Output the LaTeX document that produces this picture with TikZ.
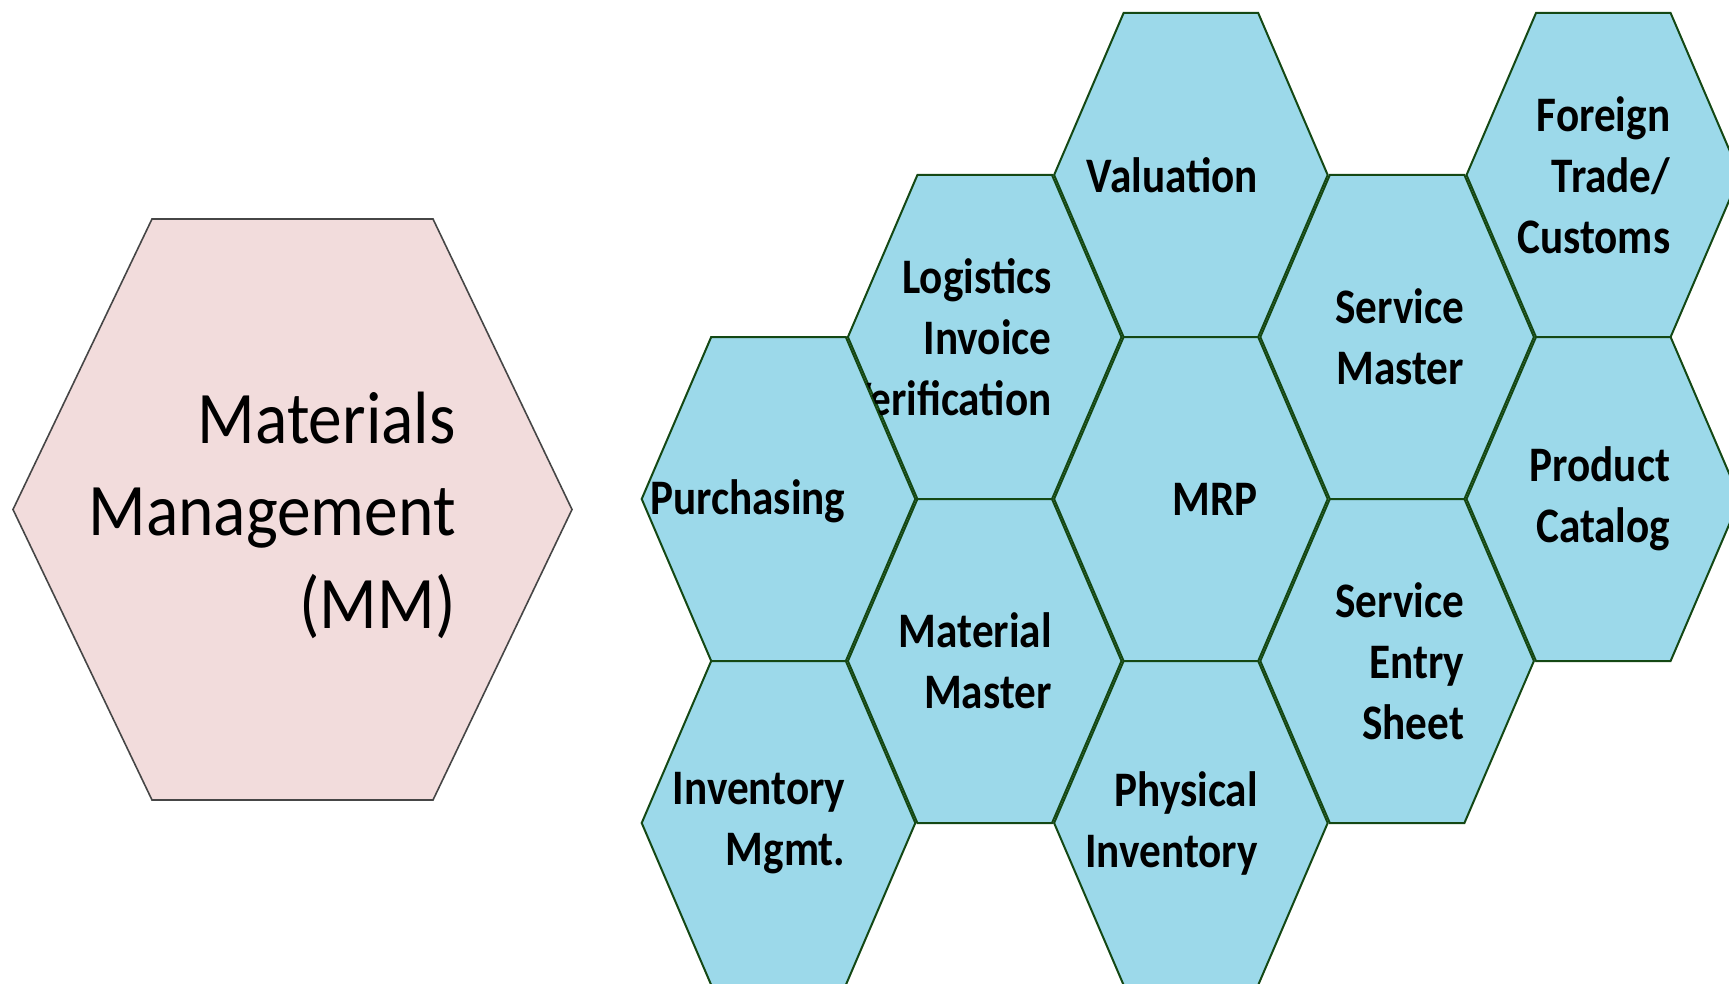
\documentclass[tikz,border=0pt]{standalone}
\usepackage{fontspec}
\setmainfont{Carlito}
\usepackage{tikz}

\definecolor{hexblue}{RGB}{156,217,234}
\definecolor{hexline}{RGB}{20,72,20}
\definecolor{mmpink}{RGB}{242,220,220}
\definecolor{mmline}{RGB}{70,70,70}

\tikzset{
  subhex/.style={draw=hexline, line width=1pt, fill=hexblue},
  mainhex/.style={draw=mmline, line width=0.8pt, fill=mmpink},
  sublabel/.style={anchor=east, align=right, inner sep=0pt, yscale=1.15,
    font=\bfseries\fontsize{21.6}{26.5}\selectfont},
  mainlabel/.style={anchor=east, align=right, inner sep=0pt, yscale=1.1,
    font=\fontsize{33.7}{42}\selectfont}
}

\begin{document}
\begin{tikzpicture}[x=0.5pt,y=0.5pt,yscale=-1,xscale=1]
\useasboundingbox (0,0) rectangle (1729,984);

%Shape: Hexagon [Materials Management]
\draw [mainhex] (152,219) -- (433,219) -- (572,509.5) -- (433,800) -- (152,800) -- (13,509.5) -- cycle ;
% Text Node
\draw (456,515) node [mainlabel] (mm) {Materials\\Management\\(MM)};

%Shape: Hexagon [Logistics Invoice Verification]
\draw [subhex] (917.4,175) -- (1052,175) -- (1121.5,337) -- (1052,499) -- (917.4,499) -- (847.9,337) -- cycle ;
% Text Node
\draw (1052,337) node [sublabel] (liv) {Logistics\\Invoice\\Verification};
%Shape: Hexagon [Material Master]
\draw [subhex] (917.4,499) -- (1052,499) -- (1121.5,661) -- (1052,823) -- (917.4,823) -- (847.9,661) -- cycle ;
% Text Node
\draw (1052,661) node [sublabel] (matmaster) {Material\\Master};

%Shape: Hexagon [Purchasing]
\draw [subhex] (711.2,337) -- (845.8,337) -- (915.3,499) -- (845.8,661) -- (711.2,661) -- (641.7,499) -- cycle ;
% Text Node
\draw (845.8,501) node [sublabel] (purch) {Purchasing};
%Shape: Hexagon [Inventory Mgmt.]
\draw [subhex] (711.2,661) -- (845.8,661) -- (915.3,823) -- (845.8,985) -- (711.2,985) -- (641.7,823) -- cycle ;
% Text Node
\draw (845.8,823) node [sublabel] (invmgmt) {Inventory\\Mgmt.};

%Shape: Hexagon [Valuation]
\draw [subhex] (1123.6,13) -- (1258.2,13) -- (1327.7,175) -- (1258.2,337) -- (1123.6,337) -- (1054.1,175) -- cycle ;
% Text Node
\draw (1258.2,175) node [sublabel] (val) {Valuation};
%Shape: Hexagon [MRP]
\draw [subhex] (1123.6,337) -- (1258.2,337) -- (1327.7,499) -- (1258.2,661) -- (1123.6,661) -- (1054.1,499) -- cycle ;
% Text Node
\draw (1258.2,499) node [sublabel] (mrp) {MRP};
%Shape: Hexagon [Physical Inventory]
\draw [subhex] (1123.6,661) -- (1258.2,661) -- (1327.7,823) -- (1258.2,985) -- (1123.6,985) -- (1054.1,823) -- cycle ;
% Text Node
\draw (1258.2,823) node [sublabel] (physinv) {Physical\\Inventory};

%Shape: Hexagon [Service Master]
\draw [subhex] (1329.8,175) -- (1464.4,175) -- (1533.9,337) -- (1464.4,499) -- (1329.8,499) -- (1260.3,337) -- cycle ;
% Text Node
\draw (1464.4,337) node [sublabel] (servmaster) {Service\\Master};
%Shape: Hexagon [Service Entry Sheet]
\draw [subhex] (1329.8,499) -- (1464.4,499) -- (1533.9,661) -- (1464.4,823) -- (1329.8,823) -- (1260.3,661) -- cycle ;
% Text Node
\draw (1464.4,661) node [sublabel] (sesheet) {Service\\Entry\\Sheet};

%Shape: Hexagon [Foreign Trade/Customs]
\draw [subhex] (1536,13) -- (1670.6,13) -- (1740.1,175) -- (1670.6,337) -- (1536,337) -- (1466.5,175) -- cycle ;
% Text Node
\draw (1670.6,175) node [sublabel] (foreign) {Foreign\\Trade/\\Customs};
%Shape: Hexagon [Product Catalog]
\draw [subhex] (1536,337) -- (1670.6,337) -- (1740.1,499) -- (1670.6,661) -- (1536,661) -- (1466.5,499) -- cycle ;
% Text Node
\draw (1670.6,499) node [sublabel] (prodcat) {Product\\Catalog};

\end{tikzpicture}
\end{document}
